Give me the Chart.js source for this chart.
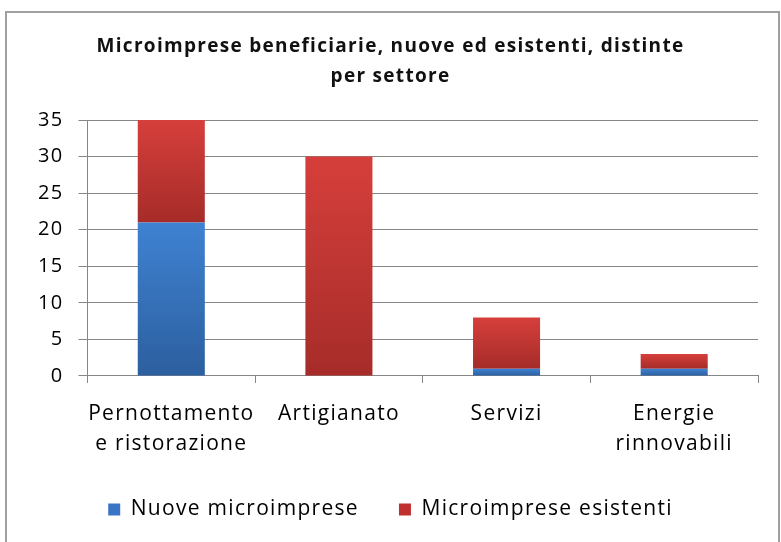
<!DOCTYPE html>
<html>
<head>
<meta charset="utf-8">
<script src="https://cdn.jsdelivr.net/npm/chart.js@4/dist/chart.umd.min.js"></script>
<style>
  html, body { margin: 0; padding: 0; background: #fff; }
  #frame {
    position: absolute; left: 5px; top: 11px; width: 775px; height: 540px;
    border: 2px solid #a0a0a0; box-sizing: border-box;
  }
  #wrap { position: absolute; left: 0; top: 0; width: 781px; height: 542px; }
</style>
</head>
<body>
<div id="frame"></div>
<div id="wrap"><canvas id="chart" width="781" height="542"></canvas></div>
<script>
const categories = [["Pernottamento", "e ristorazione"], "Artigianato", "Servizi", ["Energie", "rinnovabili"]];
const nuove = [21, 0, 1, 1];
const esistenti = [14, 30, 7, 2];
const yTicks = [0, 5, 10, 15, 20, 25, 30, 35];

const FONT = "'Open Sans', Lato, sans-serif";

// the original text is set a bit wide; canvas letterSpacing gets close to it
const wideText = {
  id: "wideText",
  beforeLayout(chart) { chart.ctx.letterSpacing = "1.3px"; },
  beforeDraw(chart) { chart.ctx.letterSpacing = "1.3px"; },
};

// each segment gets its own light-to-dark vertical gradient, like the Office original
function segmentGradient(top, bottom, solid) {
  return (c) => {
    const chart = c.chart;
    const y = chart.scales.y;
    if (!chart.chartArea || !y || c.type !== "data") return solid;
    const stacks = [nuove, esistenti];
    let base = 0;
    for (let d = 0; d < c.datasetIndex; d++) base += stacks[d][c.dataIndex];
    const val = stacks[c.datasetIndex][c.dataIndex];
    const y1 = y.getPixelForValue(base + val);
    const y0 = y.getPixelForValue(base);
    if (!isFinite(y0) || !isFinite(y1) || y0 === y1) return solid;
    const g = chart.ctx.createLinearGradient(0, y1, 0, y0);
    g.addColorStop(0, top);
    g.addColorStop(1, bottom);
    return g;
  };
}

new Chart(document.getElementById("chart"), {
  type: "bar",
  plugins: [wideText],
  data: {
    labels: categories,
    datasets: [
      {
        label: "Nuove microimprese",
        data: nuove,
        backgroundColor: segmentGradient("#3f82d2", "#2c5f9f", "#3a74c4"),
        categoryPercentage: 1,
        barPercentage: 0.4,
      },
      {
        label: "Microimprese esistenti",
        data: esistenti,
        backgroundColor: segmentGradient("#d63f3b", "#a62c29", "#c0302d"),
        categoryPercentage: 1,
        barPercentage: 0.4,
      },
    ],
  },
  options: {
    responsive: false,
    animation: false,
    layout: { padding: { left: 23, right: 23, top: 32, bottom: 12 } },
    plugins: {
      title: {
        display: true,
        text: ["Microimprese beneficiarie, nuove ed esistenti, distinte", "per settore"],
        color: "#111",
        font: { family: FONT, size: 19, weight: "bold", lineHeight: 1.58 },
        padding: { top: 0, bottom: 28 },
      },
      legend: {
        position: "bottom",
        labels: {
          color: "#000",
          font: { family: FONT, size: 21 },
          boxWidth: 12,
          boxHeight: 12,
          padding: 40,
          generateLabels: (chart) => chart.data.datasets.map((ds, i) => ({
            text: ds.label,
            fillStyle: i === 0 ? "#3a74c4" : "#c0302d",
            strokeStyle: "transparent",
            lineWidth: 0,
            datasetIndex: i,
          })),
        },
      },
      tooltip: { enabled: false },
    },
    scales: {
      x: {
        stacked: true,
        // let the plot sit a bit lower, into the legend's top padding
        afterFit: (axis) => { axis.height -= 16; },
        grid: { display: true, offset: true, drawOnChartArea: false, color: "#868686", tickLength: 7 },
        border: { color: "#868686", width: 1 },
        ticks: {
          color: "#000",
          font: { family: FONT, size: 21, lineHeight: 1.43 },
          maxRotation: 0,
          autoSkip: false,
          padding: 16,
        },
      },
      y: {
        stacked: true,
        min: 0,
        max: 35,
        afterBuildTicks: (axis) => { axis.ticks = yTicks.map(v => ({ value: v })); },
        grid: { color: "#868686", tickLength: 9 },
        border: { color: "#868686", width: 1 },
        ticks: {
          color: "#000",
          font: { family: FONT, size: 20 },
          padding: 15,
        },
      },
    },
  },
});
</script>
</body>
</html>
